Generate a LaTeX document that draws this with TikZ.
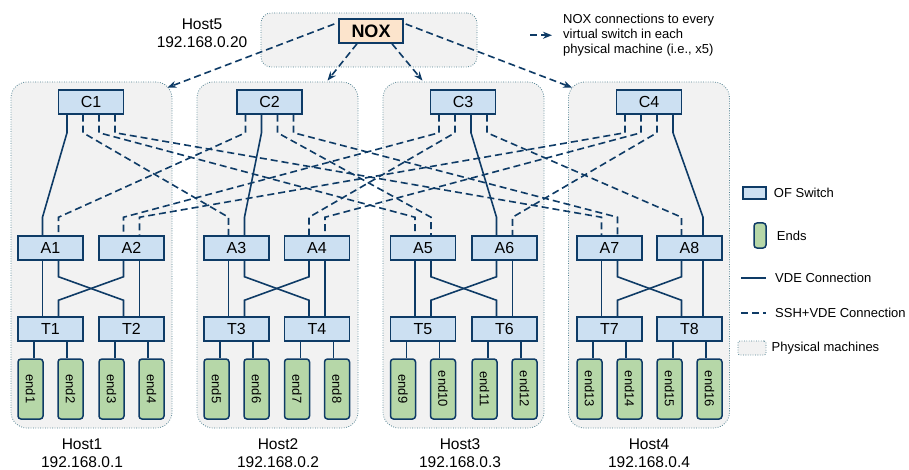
\documentclass[tikz,border=0pt]{standalone}
\usepackage{fontspec}
\setmainfont{Liberation Sans}
\usetikzlibrary{arrows.meta,calc,positioning}

\definecolor{navy}{HTML}{0E3B66}
\definecolor{swfill}{HTML}{CCE0F2}
\definecolor{noxfill}{HTML}{FCE4CC}
\definecolor{endfill}{HTML}{B6D7A8}
\definecolor{pmfill}{HTML}{F2F2F2}
\definecolor{pmline}{HTML}{4F8090}

\begin{document}
\begin{tikzpicture}[x=1pt,y=-1pt,>={Stealth[length=9pt,width=7pt]},
			pm/.style={draw=pmline,fill=pmfill,line width=0.8pt,dash pattern=on 0.8pt off 1.6pt,rounded corners=16pt},
			sw/.style={draw=navy,fill=swfill,line width=1.5pt,minimum width=65pt,minimum height=24pt,inner sep=0pt,font=\fontsize{16}{16}\selectfont},
			ends/.style={draw=navy,fill=endfill,line width=1.5pt,minimum width=25pt,minimum height=60pt,inner sep=0pt,rounded corners=3pt,font=\fontsize{13}{13}\selectfont},
			vde/.style={draw=navy,line width=1.6pt},
			ssh/.style={vde,dash pattern=on 7pt off 4pt},
			txt/.style={font=\fontsize{13}{15}\selectfont,inner sep=0pt},
			hostlbl/.style={align=center,inner sep=0pt,font=\fontsize{15.5}{18}\selectfont}]
			\useasboundingbox (0,0) rectangle (909,470);

			% physical machines
			\node[pm,minimum width=216pt,minimum height=54pt,rounded corners=10pt] (host5) at (369,40) {};
			\node[pm,minimum width=161pt,minimum height=346pt] (host1) at (91.5,255) {};
			\node[pm,minimum width=161pt,minimum height=346pt] (host2) at (277.5,255) {};
			\node[pm,minimum width=161pt,minimum height=346pt] (host3) at (463.5,255) {};
			\node[pm,minimum width=161pt,minimum height=346pt] (host4) at (649,255) {};

			\node[hostlbl] (h5) at (202,33.5) {Host5\\192.168.0.20};
			\node[hostlbl] (h1) at (82,453) {Host1\\192.168.0.1};
			\node[hostlbl] (h2) at (278,453) {Host2\\192.168.0.2};
			\node[hostlbl] (h3) at (460,453) {Host3\\192.168.0.3};
			\node[hostlbl] (h4) at (649,453) {Host4\\192.168.0.4};

			% controller
			\node[draw=navy,fill=noxfill,line width=1.5pt,minimum width=64pt,minimum height=24pt,inner sep=0pt,font=\bfseries\fontsize{18}{18}\selectfont] (nox) at (371,31) {NOX};

			% switches
			\node[sw] (c1) at (91,102) {C1};
			\node[sw] (c2) at (269.5,102) {C2};
			\node[sw] (c3) at (463,102) {C3};
			\node[sw] (c4) at (649,102) {C4};

			\node[sw] (a1) at (50.5,248) {A1};
			\node[sw] (a2) at (131.5,248) {A2};
			\node[sw] (a3) at (236.5,248) {A3};
			\node[sw] (a4) at (317,248) {A4};
			\node[sw] (a5) at (423,248) {A5};
			\node[sw] (a6) at (504.5,248) {A6};
			\node[sw] (a7) at (609.5,248) {A7};
			\node[sw] (a8) at (689.5,248) {A8};

			\node[sw] (t1) at (50.5,329) {T1};
			\node[sw] (t2) at (131.5,329) {T2};
			\node[sw] (t3) at (236.5,329) {T3};
			\node[sw] (t4) at (317,329) {T4};
			\node[sw] (t5) at (423,329) {T5};
			\node[sw] (t6) at (504.5,329) {T6};
			\node[sw] (t7) at (609.5,329) {T7};
			\node[sw] (t8) at (689.5,329) {T8};

			% ends
			\node[ends] (e1) at (30.5,389) {\rotatebox{-90}{end1}};
			\node[ends] (e2) at (70.5,389) {\rotatebox{-90}{end2}};
			\node[ends] (e3) at (111.5,389) {\rotatebox{-90}{end3}};
			\node[ends] (e4) at (151.5,389) {\rotatebox{-90}{end4}};
			\node[ends] (e5) at (216.5,389) {\rotatebox{-90}{end5}};
			\node[ends] (e6) at (256.5,389) {\rotatebox{-90}{end6}};
			\node[ends] (e7) at (297,389) {\rotatebox{-90}{end7}};
			\node[ends] (e8) at (337,389) {\rotatebox{-90}{end8}};
			\node[ends] (e9) at (403,389) {\rotatebox{-90}{end9}};
			\node[ends] (e10) at (443,389) {\rotatebox{-90}{end10}};
			\node[ends] (e11) at (484.5,389) {\rotatebox{-90}{end11}};
			\node[ends] (e12) at (524.5,389) {\rotatebox{-90}{end12}};
			\node[ends] (e13) at (589.5,389) {\rotatebox{-90}{end13}};
			\node[ends] (e14) at (629.5,389) {\rotatebox{-90}{end14}};
			\node[ends] (e15) at (669.5,389) {\rotatebox{-90}{end15}};
			\node[ends] (e16) at (709.5,389) {\rotatebox{-90}{end16}};

			% NOX to the switches of every machine
			\draw[ssh,->] ($(nox.west)+(-4,-7)$) -- ($(host1.north east)+(-5,6)$);
			\draw[ssh,->] ($(nox.south)+(-14,0)$) -- ($(host2.north)+(50,-1)$);
			\draw[ssh,->] ($(nox.south)+(21,0)$) -- ($(host3.north)+(-41,-1)$);
			\draw[ssh,->] ($(nox.east)+(2,-7)$) -- ($(host4.north west)+(4,6)$);

			% core to aggregation
			\draw[vde] ($(c1.south)+(-24,0)$) -- ++(0,18) -- ($(a1.north)+(-8,-18)$) -- ++(0,18);
			\draw[ssh] ($(c1.south)+(-8,0)$) -- ++(0,18) -- ($(a3.north)+(-8,-18)$) -- ++(0,18);
			\draw[ssh] ($(c1.south)+(8,0)$) -- ++(0,18) -- ($(a5.north)+(-8,-18)$) -- ++(0,18);
			\draw[ssh] ($(c1.south)+(24,0)$) -- ++(0,18) -- ($(a7.north)+(-8,-18)$) -- ++(0,18);

			\draw[ssh] ($(c2.south)+(-24,0)$) -- ++(0,18) -- ($(a1.north)+(8,-18)$) -- ++(0,18);
			\draw[vde] ($(c2.south)+(-8,0)$) -- ++(0,18) -- ($(a3.north)+(8,-18)$) -- ++(0,18);
			\draw[ssh] ($(c2.south)+(8,0)$) -- ++(0,18) -- ($(a5.north)+(8,-18)$) -- ++(0,18);
			\draw[ssh] ($(c2.south)+(24,0)$) -- ++(0,18) -- ($(a7.north)+(8,-18)$) -- ++(0,18);

			\draw[ssh] ($(c3.south)+(-24,0)$) -- ++(0,18) -- ($(a2.north)+(-8,-18)$) -- ++(0,18);
			\draw[ssh] ($(c3.south)+(-8,0)$) -- ++(0,18) -- ($(a4.north)+(-8,-18)$) -- ++(0,18);
			\draw[vde] ($(c3.south)+(8,0)$) -- ++(0,18) -- ($(a6.north)+(-8,-18)$) -- ++(0,18);
			\draw[ssh] ($(c3.south)+(24,0)$) -- ++(0,18) -- ($(a8.north)+(-8,-18)$) -- ++(0,18);

			\draw[ssh] ($(c4.south)+(-24,0)$) -- ++(0,18) -- ($(a2.north)+(8,-18)$) -- ++(0,18);
			\draw[ssh] ($(c4.south)+(-8,0)$) -- ++(0,18) -- ($(a4.north)+(8,-18)$) -- ++(0,18);
			\draw[ssh] ($(c4.south)+(8,0)$) -- ++(0,18) -- ($(a6.north)+(8,-18)$) -- ++(0,18);
			\draw[vde] ($(c4.south)+(24,0)$) -- ++(0,18) -- ($(a8.north)+(13.5,-18)$) -- ++(0,18);

			% aggregation to top of rack
			\draw[vde] ($(a1.south)+(-8,0)$) -- ($(t1.north)+(-8,0)$);
			\draw[vde] ($(a1.south)+(8,0)$) -- ++(0,16) -- ($(t2.north)+(-8,-16)$) -- ++(0,16);
			\draw[vde] ($(a2.south)+(-8,0)$) -- ++(0,16) -- ($(t1.north)+(8,-16)$) -- ++(0,16);
			\draw[vde] ($(a2.south)+(8,0)$) -- ($(t2.north)+(8,0)$);

			\draw[vde] ($(a3.south)+(-8,0)$) -- ($(t3.north)+(-8,0)$);
			\draw[vde] ($(a3.south)+(8,0)$) -- ++(0,16) -- ($(t4.north)+(-8,-16)$) -- ++(0,16);
			\draw[vde] ($(a4.south)+(-8,0)$) -- ++(0,16) -- ($(t3.north)+(8,-16)$) -- ++(0,16);
			\draw[vde] ($(a4.south)+(8,0)$) -- ($(t4.north)+(8,0)$);

			\draw[vde] ($(a5.south)+(-8,0)$) -- ($(t5.north)+(-8,0)$);
			\draw[vde] ($(a5.south)+(8,0)$) -- ++(0,16) -- ($(t6.north)+(-8,-16)$) -- ++(0,16);
			\draw[vde] ($(a6.south)+(-8,0)$) -- ++(0,16) -- ($(t5.north)+(8,-16)$) -- ++(0,16);
			\draw[vde] ($(a6.south)+(8,0)$) -- ($(t6.north)+(8,0)$);

			\draw[vde] ($(a7.south)+(-8,0)$) -- ($(t7.north)+(-8,0)$);
			\draw[vde] ($(a7.south)+(8,0)$) -- ++(0,16) -- ($(t8.north)+(-8,-16)$) -- ++(0,16);
			\draw[vde] ($(a8.south)+(-8,0)$) -- ++(0,16) -- ($(t7.north)+(8,-16)$) -- ++(0,16);
			\draw[vde] ($(a8.south)+(13.5,0)$) -- ($(t8.north)+(13.5,0)$);

			% top of rack to ends
			\draw[vde] ($(t1.south west)!.25!(t1.south east)$) coordinate (p) -- (p |- e1.north);
			\draw[vde] ($(t1.south west)!.75!(t1.south east)$) coordinate (p) -- (p |- e2.north);
			\draw[vde] ($(t2.south west)!.25!(t2.south east)$) coordinate (p) -- (p |- e3.north);
			\draw[vde] ($(t2.south west)!.75!(t2.south east)$) coordinate (p) -- (p |- e4.north);
			\draw[vde] ($(t3.south west)!.25!(t3.south east)$) coordinate (p) -- (p |- e5.north);
			\draw[vde] ($(t3.south west)!.75!(t3.south east)$) coordinate (p) -- (p |- e6.north);
			\draw[vde] ($(t4.south west)!.25!(t4.south east)$) coordinate (p) -- (p |- e7.north);
			\draw[vde] ($(t4.south west)!.75!(t4.south east)$) coordinate (p) -- (p |- e8.north);
			\draw[vde] ($(t5.south west)!.25!(t5.south east)$) coordinate (p) -- (p |- e9.north);
			\draw[vde] ($(t5.south west)!.75!(t5.south east)$) coordinate (p) -- (p |- e10.north);
			\draw[vde] ($(t6.south west)!.25!(t6.south east)$) coordinate (p) -- (p |- e11.north);
			\draw[vde] ($(t6.south west)!.75!(t6.south east)$) coordinate (p) -- (p |- e12.north);
			\draw[vde] ($(t7.south west)!.25!(t7.south east)$) coordinate (p) -- (p |- e13.north);
			\draw[vde] ($(t7.south west)!.75!(t7.south east)$) coordinate (p) -- (p |- e14.north);
			\draw[vde] ($(t8.south west)!.25!(t8.south east)$) coordinate (p) -- (p |- e15.north);
			\draw[vde] ($(t8.south west)!.75!(t8.south east)$) coordinate (p) -- (p |- e16.north);

			% legend
			\node[txt,anchor=north west,align=left] (noxnote) at (563,14) {NOX connections to every\\virtual switch in each\\physical machine (i.e., x5)};
			\draw[ssh,->] ($(noxnote.west)+(-33,0)$) -- ($(noxnote.west)+(-11,0)$);

			\node[sw,minimum width=23pt,minimum height=12pt] (lsw) at (754.5,193) {};
			\node[txt,right=7pt of lsw] (lswtxt) {OF Switch};
			\node[ends,minimum width=12pt,minimum height=25pt] (lend) at (760,235.5) {};
			\node[txt,right=10pt of lend] (lendtxt) {Ends};
			\coordinate (lvde) at (741,278);
			\draw[vde] (lvde) -- ++(25,0) coordinate (lvde2);
			\node[txt,right=9pt of lvde2] (lvdetxt) {VDE Connection};
			\coordinate (lssh) at (741,313);
			\draw[ssh] (lssh) -- ++(25,0) coordinate (lssh2);
			\node[txt,right=9pt of lssh2] (lsshtxt) {SSH+VDE Connection};
			\node[pm,rounded corners=2pt,minimum width=28pt,minimum height=14pt] (lpm) at (752,348) {};
			\node[txt,right=5pt of lpm] (lpmtxt) {Physical machines};
		\end{tikzpicture}
\end{document}
